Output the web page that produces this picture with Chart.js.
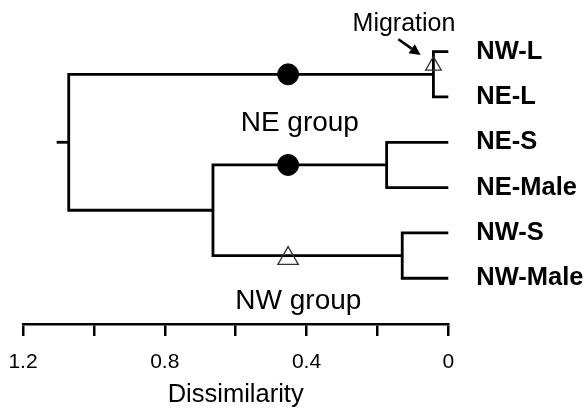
<!DOCTYPE html>
<html>
<head>
<meta charset="utf-8">
<title>Dissimilarity dendrogram</title>
<script src="https://cdn.jsdelivr.net/npm/chart.js@4.4.0/dist/chart.umd.min.js"></script>
<style>
  html, body { margin: 0; padding: 0; background: #fff; }
  #chart { display: block; }
</style>
</head>
<body>
<canvas id="chart" width="585" height="410"></canvas>
<script>
// Leaves, listed top to bottom (leaf n sits at y = n)
const leafLabels = ['NW-L', 'NE-L', 'NE-S', 'NE-Male', 'NW-S', 'NW-Male'];

// hclust-style merge table: negative = leaf number, positive = earlier merge number
const mergeLeft = [-1, -3, -5, 2, 1];
const mergeRight = [-2, -4, -6, 3, 4];
const mergeHeight = [0.042, 0.174, 0.130, 0.664, 1.071];
const rootTip = 1.105;

// Dissimilarity axis
const tickValues = [0, 0.2, 0.4, 0.6, 0.8, 1.0, 1.2];
const tickLabels = ['0', '', '0.4', '', '0.8', '', '1.2'];

// Marks placed on the branches
const circleMarks = [{ x: 0.452, y: 1.5 }, { x: 0.452, y: 3.5 }];
const triangleMarks = [{ x: 0.452, y: 5.563 }, { x: 0.042, y: 1.309 }];
const triangleSizes = [11.8, 9];

// Free text and the arrow, in data units
const notes = [
  { text: 'NE group', x: 0.419, y: 2.75, size: 28 },
  { text: 'NW group', x: 0.423, y: 6.68, size: 28 },
  { text: 'Migration', x: 0.125, y: 0.543, size: 25 }
];
const arrowFrom = { x: 0.141, y: 0.726 };
const arrowTo = { x: 0.078, y: 1.073 };

const FONT = '"Liberation Sans", Arial, Helvetica, sans-serif';

// Turn the merge table into elbow polylines
const nodes = [];
function nodeOf(ref) {
  return ref < 0 ? { x: 0, y: -ref } : nodes[ref - 1];
}
const treeSegments = mergeHeight.map((h, i) => {
  const a = nodeOf(mergeLeft[i]);
  const b = nodeOf(mergeRight[i]);
  nodes.push({ x: h, y: (a.y + b.y) / 2 });
  return [
    { x: a.x, y: a.y },
    { x: h, y: a.y },
    { x: h, y: b.y },
    { x: b.x, y: b.y }
  ];
});
const root = nodes[nodes.length - 1];
treeSegments.push([{ x: root.x, y: root.y }, { x: rootTip, y: root.y }]);

const treeDatasets = treeSegments.map(points => ({
  data: points,
  showLine: true,
  borderColor: '#000',
  borderWidth: 2.8,
  borderCapStyle: 'butt',
  borderJoinStyle: 'miter',
  pointRadius: 0,
  pointHoverRadius: 0,
  clip: false
}));

// Text labels and the migration arrow
const notesPlugin = {
  id: 'notes',
  afterDatasetsDraw(chart) {
    const { ctx, scales: { x, y } } = chart;
    ctx.save();
    ctx.fillStyle = '#000';
    ctx.textAlign = 'center';
    ctx.textBaseline = 'alphabetic';
    notes.forEach(n => {
      ctx.font = n.size + 'px ' + FONT;
      ctx.fillText(n.text, x.getPixelForValue(n.x), y.getPixelForValue(n.y));
    });

    const x0 = x.getPixelForValue(arrowFrom.x), y0 = y.getPixelForValue(arrowFrom.y);
    const x1 = x.getPixelForValue(arrowTo.x), y1 = y.getPixelForValue(arrowTo.y);
    const ang = Math.atan2(y1 - y0, x1 - x0);
    const head = 11;
    const hx = x1 - head * Math.cos(ang), hy = y1 - head * Math.sin(ang);
    ctx.strokeStyle = '#000';
    ctx.lineWidth = 2.6;
    ctx.beginPath();
    ctx.moveTo(x0, y0);
    ctx.lineTo(hx, hy);
    ctx.stroke();
    ctx.beginPath();
    ctx.moveTo(x1, y1);
    ctx.lineTo(hx + 5.5 * Math.sin(ang), hy - 5.5 * Math.cos(ang));
    ctx.lineTo(hx - 5.5 * Math.sin(ang), hy + 5.5 * Math.cos(ang));
    ctx.closePath();
    ctx.fill();
    ctx.restore();
  }
};

new Chart(document.getElementById('chart'), {
  type: 'scatter',
  data: {
    datasets: [
      {
        data: triangleMarks,
        pointStyle: 'triangle',
        pointRadius: triangleSizes,
        pointHoverRadius: triangleSizes,
        backgroundColor: 'rgba(0,0,0,0)',
        borderColor: '#333',
        borderWidth: 1.3,
        clip: false
      },
      {
        data: circleMarks,
        pointStyle: 'circle',
        pointRadius: 10.5,
        pointHoverRadius: 10.5,
        backgroundColor: '#000',
        borderColor: '#000',
        borderWidth: 1,
        clip: false
      },
      ...treeDatasets
    ]
  },
  options: {
    responsive: false,
    animation: false,
    devicePixelRatio: 1,
    layout: {
      autoPadding: false,
      padding: { left: 23, right: 0, top: 0, bottom: 0 }
    },
    plugins: {
      legend: { display: false },
      tooltip: { enabled: false }
    },
    events: [],
    scales: {
      x: {
        type: 'linear',
        position: 'bottom',
        reverse: true,
        min: 0,
        max: 1.2,
        afterBuildTicks: scale => {
          scale.ticks = tickValues.map(v => ({ value: v }));
        },
        afterFit: scale => {
          scale.height = 86;
          scale.paddingLeft = 0;
          scale.paddingRight = 0;
        },
        grid: {
          drawOnChartArea: false,
          drawTicks: true,
          tickLength: 12,
          lineWidth: 2.5,
          color: '#000'
        },
        border: { display: true, color: '#000', width: 2.5 },
        ticks: {
          autoSkip: false,
          maxRotation: 0,
          padding: 14,
          color: '#000',
          font: { family: FONT, size: 21 },
          callback: (value, index) => tickLabels[index]
        },
        title: {
          display: true,
          text: 'Dissimilarity',
          color: '#000',
          font: { family: FONT, size: 25.5 },
          padding: { top: 0, bottom: 0 }
        }
      },
      y: {
        type: 'linear',
        position: 'right',
        reverse: true,
        min: -0.14,
        max: 7.01,
        afterBuildTicks: scale => {
          scale.ticks = leafLabels.map((_, i) => ({ value: i + 1 }));
        },
        afterFit: scale => {
          scale.width = 136.7;
          scale.paddingTop = 0;
          scale.paddingBottom = 0;
        },
        grid: { display: false, drawTicks: false },
        border: { display: false },
        ticks: {
          autoSkip: false,
          padding: 28,
          color: '#000',
          font: { family: FONT, size: 25.5, weight: 'bold' },
          callback: value => leafLabels[value - 1]
        }
      }
    }
  },
  plugins: [notesPlugin]
});
</script>
</body>
</html>
